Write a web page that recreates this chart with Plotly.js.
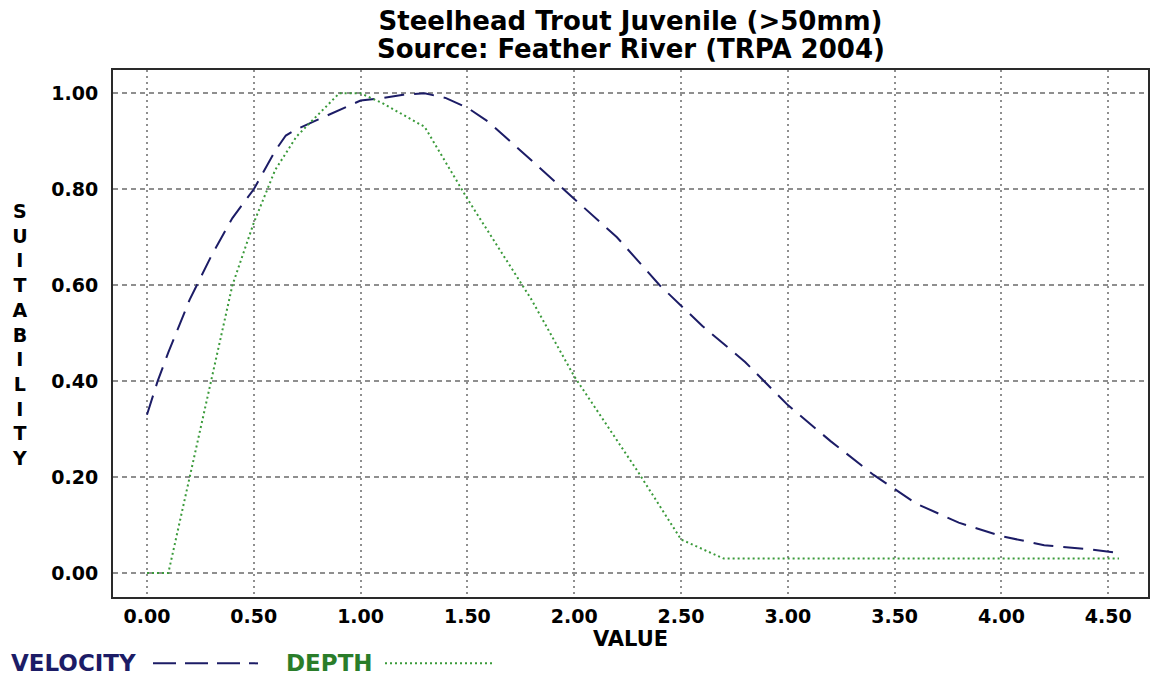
<!DOCTYPE html>
<html>
<head>
<meta charset="utf-8">
<script src="https://cdn.plot.ly/plotly-3.0.1.min.js"></script>
<style>
  html, body { margin: 0; padding: 0; background: #fff; }
  #chart { width: 1151px; height: 677px; }
</style>
</head>
<body>
<div id="chart"></div>
<script>
// ---- data ----
const velocityX = [0, 0.05, 0.1, 0.2, 0.3, 0.4, 0.5, 0.6, 0.65, 0.7, 0.8, 0.9, 1.0, 1.1, 1.2, 1.3, 1.4, 1.5, 1.6, 1.7, 1.8, 1.9, 2.0, 2.2, 2.4, 2.6, 2.8, 3.0, 3.2, 3.4, 3.6, 3.8, 4.0, 4.2, 4.4, 4.55];
const velocityY = [0.33, 0.40, 0.46, 0.57, 0.66, 0.74, 0.80, 0.88, 0.912, 0.925, 0.945, 0.965, 0.985, 0.99, 0.997, 1.0, 0.99, 0.97, 0.94, 0.90, 0.86, 0.82, 0.78, 0.70, 0.60, 0.515, 0.44, 0.35, 0.275, 0.205, 0.145, 0.105, 0.077, 0.058, 0.05, 0.042];

const depthX = [0, 0.1, 0.3, 0.4, 0.5, 0.6, 0.7, 0.8, 0.9, 1.0, 1.1, 1.3, 1.5, 1.8, 2.0, 2.3, 2.5, 2.7, 4.55];
const depthY = [0, 0, 0.40, 0.60, 0.73, 0.84, 0.91, 0.955, 1.0, 1.0, 0.98, 0.93, 0.78, 0.57, 0.41, 0.21, 0.07, 0.03, 0.03];

const seriesNames = ["VELOCITY", "DEPTH"];
const titleLines = ["Steelhead Trout Juvenile (>50mm)", "Source: Feather River (TRPA 2004)"];
const xAxisLabel = "VALUE";
const yAxisLabel = "SUITABILITY";

// ---- styles ----
const FONT = "DejaVu Sans, Verdana, sans-serif";
const NAVY = "#1c1c66";
const GREEN = "#2e8b2e";
const GRID = "#8f8f8f";

const traces = [
  { x: velocityX, y: velocityY, name: seriesNames[0], mode: "lines",
    line: { color: NAVY, width: 2, dash: "20px,10px" }, hoverinfo: "skip" },
  { x: depthX, y: depthY, name: seriesNames[1], mode: "lines",
    line: { color: "#3a9a3a", width: 2, dash: "2px,3px" }, hoverinfo: "skip" }
];

// vertical stacked y-axis label
const yLabelText = yAxisLabel.split("").join("<br>");

const PAPER_Y = px => (596.7 - px) / 526.7;
const PAPER_X = px => (px - 113) / 1035;

const layout = {
  width: 1151, height: 677,
  paper_bgcolor: "#fff", plot_bgcolor: "#fff",
  margin: { l: 113, r: 3, t: 70, b: 80, pad: 0 },
  showlegend: false,
  title: {
    text: titleLines[0],
    font: { family: FONT, size: 26, color: "#000", weight: 700 },
    x: 0.5, xref: "paper", xanchor: "center",
    y: 1 - 21 / 677, yref: "container", yanchor: "middle"
  },
  xaxis: {
    range: [-0.159, 4.686], dtick: 0.5, tick0: 0, tickformat: ".2f",
    showgrid: true, gridcolor: GRID, gridwidth: 2, griddash: "2px,4px",
    zeroline: false, showline: true, linecolor: "#2a2a2a", linewidth: 2, mirror: true,
    ticks: "outside", ticklen: 1, tickcolor: "rgba(0,0,0,0)",
    tickfont: { family: FONT, size: 19, color: "#000", weight: 700 },
    title: { text: xAxisLabel, font: { family: FONT, size: 21, color: "#000", weight: 700 }, standoff: 3 },
    fixedrange: true
  },
  yaxis: {
    range: [-0.050, 1.0486], dtick: 0.2, tick0: 0, tickformat: ".2f",
    showgrid: true, gridcolor: GRID, gridwidth: 2, griddash: "5px,4px",
    zeroline: false, showline: true, linecolor: "#2a2a2a", linewidth: 2, mirror: true,
    ticks: "outside", ticklen: 9, tickcolor: "rgba(0,0,0,0)",
    tickfont: { family: FONT, size: 19, color: "#000", weight: 700 },
    fixedrange: true
  },
  annotations: [
    { text: titleLines[1], xref: "paper", yref: "paper",
      x: 0.5, y: PAPER_Y(49), xanchor: "center", yanchor: "middle", showarrow: false,
      font: { family: FONT, size: 26, color: "#000", weight: 700 } },
    { text: yLabelText, xref: "paper", yref: "paper",
      x: PAPER_X(20), y: PAPER_Y(334.5),
      xanchor: "center", yanchor: "middle", showarrow: false, align: "center",
      font: { family: FONT, size: 19, color: "#000", weight: 700 } },
    { text: seriesNames[0], xref: "paper", yref: "paper",
      x: PAPER_X(9), y: PAPER_Y(663),
      xanchor: "left", yanchor: "middle", showarrow: false,
      font: { family: FONT, size: 23, color: NAVY, weight: 700 } },
    { text: seriesNames[1], xref: "paper", yref: "paper",
      x: PAPER_X(284), y: PAPER_Y(663),
      xanchor: "left", yanchor: "middle", showarrow: false,
      font: { family: FONT, size: 23, color: "#2a7d2a", weight: 700 } }
  ],
  shapes: [
    { type: "line", xref: "paper", yref: "paper",
      x0: PAPER_X(153), x1: PAPER_X(258), y0: PAPER_Y(663), y1: PAPER_Y(663),
      line: { color: NAVY, width: 2, dash: "23px,9px" } },
    { type: "line", xref: "paper", yref: "paper",
      x0: PAPER_X(385), x1: PAPER_X(492), y0: PAPER_Y(663), y1: PAPER_Y(663),
      line: { color: "#3a9a3a", width: 2, dash: "2px,3px" } }
  ]
};

Plotly.newPlot("chart", traces, layout, { displayModeBar: false, staticPlot: true, responsive: false });
</script>
</body>
</html>
